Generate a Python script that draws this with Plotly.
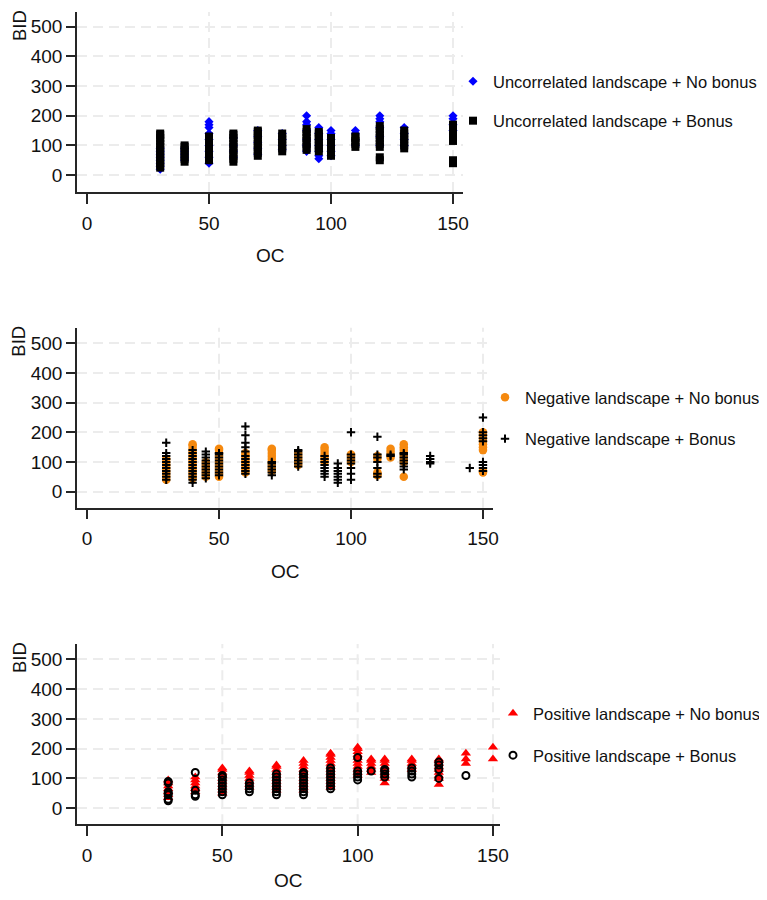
import plotly.graph_objects as go

# ---------------- data ----------------
# Panel 1: Uncorrelated landscape
unc_nb_oc = ([30]*8 + [40]*5 + [50]*9 + [60]*4 + [70]*5 + [80]*4 + [90]*7 +
             [95]*7 + [100]*6 + [110]*4 + [120]*6 + [130]*4 + [150]*4)
unc_nb_bid = [20, 30, 40, 50, 60, 70, 80, 90,
              50, 60, 70, 80, 90,
              40, 60, 80, 100, 120, 140, 160, 170, 180,
              60, 80, 100, 125,
              70, 90, 110, 130, 150,
              85, 100, 120, 140,
              80, 100, 120, 150, 170, 180, 200,
              55, 65, 80, 100, 120, 140, 160,
              65, 80, 100, 120, 140, 150,
              100, 120, 140, 150,
              100, 130, 160, 180, 190, 200,
              100, 120, 140, 160,
              150, 170, 190, 200]

unc_b_oc = ([30]*13 + [40]*7 + [50]*9 + [60]*11 + [70]*10 + [80]*7 + [90]*8 +
            [95]*8 + [100]*7 + [110]*5 + [120]*10 + [130]*7 + [150]*9)
unc_b_bid = [25, 35, 45, 55, 65, 75, 85, 95, 105, 115, 125, 135, 140,
             45, 55, 65, 75, 85, 95, 100,
             50, 60, 70, 80, 90, 100, 110, 120, 130,
             45, 55, 65, 75, 85, 95, 105, 115, 125, 135, 140,
             65, 75, 85, 95, 105, 115, 125, 135, 145, 150,
             80, 90, 100, 110, 120, 130, 140,
             85, 95, 105, 115, 125, 135, 145, 155,
             80, 90, 100, 110, 120, 130, 140, 145,
             65, 75, 85, 95, 105, 115, 125,
             95, 105, 115, 125, 130,
             50, 60, 95, 105, 115, 125, 135, 145, 155, 165,
             90, 100, 110, 120, 130, 140, 150,
             40, 50, 115, 125, 135, 145, 155, 165, 170]

# Panel 2: Negative landscape
neg_nb_oc = ([30]*8 + [40]*13 + [45]*6 + [50]*11 + [60]*8 + [70]*9 + [80]*5 +
             [90]*6 + [100]*4 + [110]*5 + [115]*4 + [120]*8 + [150]*9)
neg_nb_bid = [40, 50, 60, 70, 80, 90, 100, 110,
              45, 55, 65, 75, 85, 95, 105, 115, 125, 135, 145, 155, 160,
              50, 60, 70, 80, 90, 100,
              50, 60, 70, 80, 90, 100, 110, 120, 130, 140, 145,
              65, 75, 85, 95, 105, 115, 125, 130,
              70, 80, 90, 100, 110, 120, 130, 140, 145,
              90, 100, 110, 120, 130,
              100, 110, 120, 130, 140, 150,
              100, 110, 120, 125,
              55, 60, 65, 110, 120,
              115, 125, 135, 145,
              50, 100, 110, 120, 130, 140, 150, 160,
              65, 70, 140, 150, 160, 170, 180, 190, 200]

neg_b_oc = ([30]*11 + [40]*12 + [45]*10 + [50]*9 + [60]*12 + [70]*6 + [80]*7 +
            [90]*8 + [95]*7 + [100]*8 + [110]*7 + [115]*2 + [120]*7 + [130]*4 +
            [145]*1 + [150]*9)
neg_b_bid = [40, 50, 60, 70, 80, 90, 100, 110, 120, 130, 165,
             30, 40, 50, 60, 70, 80, 90, 100, 110, 120, 130, 140,
             45, 55, 65, 75, 85, 95, 105, 115, 125, 135,
             55, 65, 75, 85, 95, 105, 115, 125, 130,
             60, 70, 80, 90, 100, 110, 120, 135, 150, 165, 190, 220,
             55, 65, 75, 85, 95, 100,
             85, 95, 105, 115, 125, 135, 140,
             50, 60, 70, 80, 90, 100, 110, 120,
             30, 40, 50, 60, 70, 80, 95,
             40, 60, 80, 95, 105, 115, 125, 200,
             50, 60, 80, 100, 115, 125, 185,
             120, 125,
             75, 85, 95, 105, 115, 125, 130,
             95, 100, 110, 120,
             80,
             70, 80, 90, 100, 170, 180, 190, 200, 250]

# Panel 3: Positive landscape
pos_nb_oc = ([30]*7 + [40]*6 + [50]*10 + [60]*7 + [70]*10 + [80]*11 + [90]*13 +
             [100]*11 + [105]*6 + [110]*9 + [120]*5 + [130]*9 + [140]*3 + [150]*2)
pos_nb_bid = [35, 45, 55, 65, 75, 85, 95,
              55, 65, 75, 85, 95, 105,
              50, 60, 70, 80, 90, 100, 110, 120, 130, 135,
              70, 80, 90, 100, 110, 120, 125,
              60, 70, 80, 90, 100, 110, 120, 130, 140, 145,
              60, 70, 80, 90, 100, 110, 120, 130, 140, 150, 160,
              70, 80, 90, 100, 110, 120, 130, 140, 150, 160, 170, 180, 185,
              110, 120, 130, 140, 150, 160, 170, 180, 190, 200, 205,
              120, 130, 140, 150, 160, 165,
              85, 100, 110, 120, 130, 140, 150, 160, 165,
              130, 140, 150, 160, 165,
              80, 100, 110, 120, 130, 140, 150, 160, 165,
              150, 165, 185,
              165, 205]

pos_b_oc = ([30]*7 + [40]*4 + [50]*8 + [60]*4 + [70]*8 + [80]*9 + [90]*8 +
            [100]*5 + [105]*1 + [110]*4 + [120]*4 + [130]*4 + [140]*1)
pos_b_bid = [25, 30, 45, 50, 55, 85, 90,
             40, 45, 60, 120,
             45, 55, 65, 75, 85, 95, 105, 110,
             55, 65, 75, 85,
             45, 55, 65, 75, 85, 95, 105, 115,
             45, 55, 65, 75, 85, 95, 105, 115, 120,
             65, 75, 85, 95, 105, 115, 125, 135,
             95, 105, 115, 125, 170,
             125,
             105, 115, 125, 130,
             105, 115, 125, 135,
             100, 130, 145, 155,
             110]

x_ticks = [0, 50, 100, 150]
y_ticks = [0, 100, 200, 300, 400, 500]
x_title = "OC"
y_title = "BID"

# ---------------- layout helpers ----------------
# page body has an 8px margin: the figure occupies screen pixels 8..759 / 8..892
OFF = 8
W, H = 767 - 2 * OFF, 900 - 2 * OFF
FONT = "Liberation Sans, Arial, sans-serif"
GRID = "#ececec"
AX = "#262626"
TXT = "#111111"


def px(x):
    return (x - OFF) / W


def py(y):
    return 1 - (y - OFF) / H


panels = [
    dict(l=77, r=463, t=12, b=192, xr=[-4.1, 154.1], yr=[-57, 549.5]),
    dict(l=77, r=493, t=327.7, b=507.7, xr=[-3.8, 153.8], yr=[-54, 552.5]),
    dict(l=77, r=500, t=644, b=824.3, xr=[-3.7, 152.6], yr=[-54, 551.5]),
]
oc_title_y = [255, 571, 880]

fig = go.Figure()

series = [
    (1, unc_nb_oc, unc_nb_bid, "Uncorrelated landscape + No bonus",
     dict(symbol="diamond", size=7, color="#0000ff", line=dict(width=0)), "legend"),
    (1, unc_b_oc, unc_b_bid, "Uncorrelated landscape + Bonus",
     dict(symbol="square", size=8, color="#000000", line=dict(width=0)), "legend"),
    (2, neg_nb_oc, neg_nb_bid, "Negative landscape + No bonus",
     dict(symbol="circle", size=8.5, color="#f5890f", line=dict(width=0)), "legend2"),
    (2, neg_b_oc, neg_b_bid, "Negative landscape + Bonus",
     dict(symbol="cross-thin", size=6, color="#000000",
          line=dict(width=2, color="#000000")), "legend2"),
    (3, pos_nb_oc, pos_nb_bid, "Positive landscape + No bonus",
     dict(symbol="triangle-up", size=9, color="#ff0000", line=dict(width=0)), "legend3"),
    (3, pos_b_oc, pos_b_bid, "Positive landscape + Bonus",
     dict(symbol="circle-open", size=7, color="#000000",
          line=dict(width=2, color="#000000")), "legend3"),
]

for i, (p, xs, ys, name, mk, lg) in enumerate(series):
    sfx = "" if p == 1 else str(p)
    fig.add_trace(go.Scatter(
        x=xs, y=ys, mode="markers", name=name, marker=mk,
        xaxis="x" + sfx, yaxis="y" + sfx, legend=lg,
        legendgroup="g%d" % i, cliponaxis=False,
    ))

layout = dict(
    width=W, height=H,
    margin=dict(l=0, r=0, t=0, b=0, autoexpand=False),
    paper_bgcolor="white", plot_bgcolor="white",
    showlegend=True,
    annotations=[], shapes=[],
)

for k, P in enumerate(panels, start=1):
    sfx = "" if k == 1 else str(k)
    layout["xaxis" + sfx] = dict(
        domain=[px(P["l"]), px(P["r"])], anchor="y" + sfx,
        range=P["xr"], tickvals=x_ticks, ticks="outside", ticklen=10,
        tickwidth=1.5, tickcolor=AX, showline=True, linecolor=AX, linewidth=1.5,
        showgrid=False, zeroline=False, ticklabelstandoff=3,
        tickfont=dict(family=FONT, size=19, color=TXT),
    )
    layout["yaxis" + sfx] = dict(
        domain=[py(P["b"]), py(P["t"])], anchor="x" + sfx,
        range=P["yr"], tickvals=y_ticks, ticks="outside", ticklen=9,
        tickwidth=1.5, tickcolor=AX, showline=True, linecolor=AX, linewidth=1.5,
        showgrid=True, gridcolor=GRID, gridwidth=2, griddash="10px,6px",
        zeroline=False, ticklabelstandoff=0,
        tickfont=dict(family=FONT, size=19, color=TXT),
    )
    for xv in x_ticks[1:]:
        layout["shapes"].append(dict(
            type="line", xref="x" + sfx, yref="y" + sfx + " domain",
            x0=xv, x1=xv, y0=0, y1=1, layer="below",
            line=dict(color=GRID, width=2, dash="10px,6px"),
        ))
    layout["annotations"].append(dict(
        text=x_title, xref="paper", yref="paper",
        x=px((P["l"] + P["r"]) / 2), y=py(oc_title_y[k - 1]), borderpad=0,
        xanchor="center", yanchor="middle", showarrow=False,
        font=dict(family=FONT, size=19, color=TXT),
    ))
    layout["annotations"].append(dict(
        text=y_title, xref="paper", yref="paper", textangle=-90,
        x=px(19), y=py(P["t"] + 14), borderpad=0,
        xanchor="center", yanchor="middle", showarrow=False,
        font=dict(family=FONT, size=18.5, color=TXT),
    ))

leg_common = dict(
    xanchor="left", yanchor="top", bgcolor="rgba(0,0,0,0)",
    font=dict(family=FONT, size=16.5, color=TXT), itemsizing="trace",
)
layout["legend"] = dict(x=px(453), y=py(64), tracegroupgap=15, **leg_common)
layout["legend2"] = dict(x=px(485), y=py(380), tracegroupgap=17, **leg_common)
layout["legend3"] = dict(x=px(493), y=py(696), tracegroupgap=17.5, **leg_common)

fig.update_layout(**layout)
fig.write_html("out.html")
